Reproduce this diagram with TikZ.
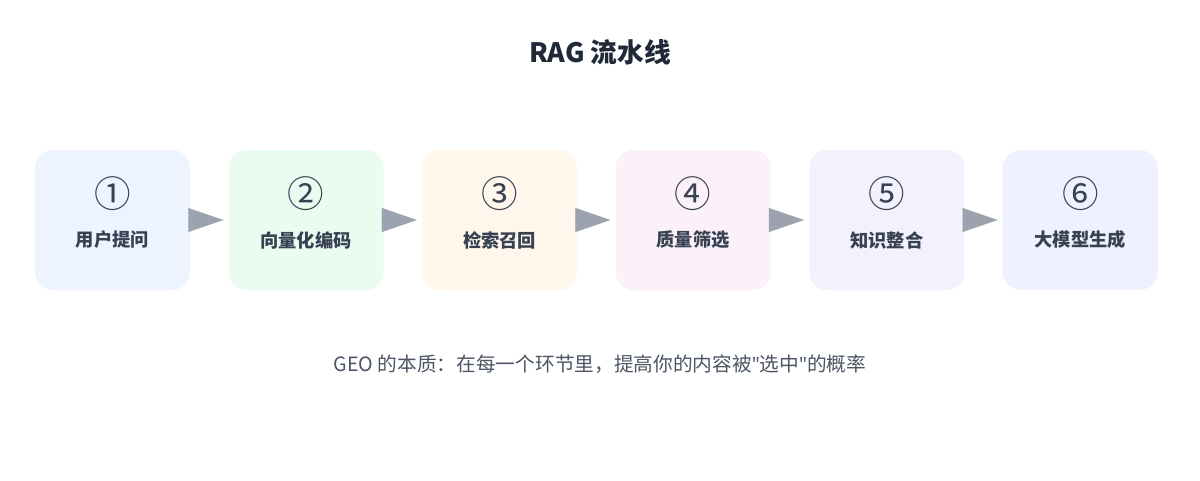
\documentclass[tikz,border=0pt]{standalone}
\usepackage{fontspec}
\setmainfont{Noto Sans CJK SC}
\newfontfamily\latinfont{Noto Sans}
\usetikzlibrary{arrows.meta,positioning}
\definecolor{TextDark}{HTML}{1F2937}
\definecolor{TextMid}{HTML}{374151}
\definecolor{FootGrey}{HTML}{4B5563}
\definecolor{ArrowGrey}{HTML}{9CA3AF}
\definecolor{StepA}{HTML}{EDF3FF}
\definecolor{StepB}{HTML}{EAFBF0}
\definecolor{StepC}{HTML}{FFF6EC}
\definecolor{StepD}{HTML}{FCF1F8}
\definecolor{StepE}{HTML}{F3F1FE}
\definecolor{StepF}{HTML}{EDF2FE}
\tikzset{
  stage/.style={rounded corners=0.45cm,minimum width=3.875cm,minimum height=3.5cm,inner sep=0pt,align=center},
  flow/.style={ArrowGrey,line width=0.1pt,-{Triangle[length=0.875cm,width=0.6cm]},shorten <=0pt,shorten >=0.125cm}
}
\begin{document}
\begin{tikzpicture}
  \useasboundingbox (0,0) rectangle (30,-12);
  % Title
  \node[TextDark,font=\fontsize{19}{22}\selectfont\bfseries] (title) at (15,-1.3) {RAG 流水线};

  % Stages
  \node[stage,fill=StepA] (s1) at (2.8125,-5.5) {};
  \node[stage,fill=StepB,right=0.95cm of s1] (s2) {};
  \node[stage,fill=StepC,right=0.95cm of s2] (s3) {};
  \node[stage,fill=StepD,right=0.95cm of s3] (s4) {};
  \node[stage,fill=StepE,right=0.95cm of s4] (s5) {};
  \node[stage,fill=StepF,right=0.95cm of s5] (s6) {};
  \foreach \i/\num/\txt in {1/①/用户提问,2/②/向量化编码,3/③/检索召回,4/④/质量筛选,5/⑤/知识整合,6/⑥/大模型生成}{
    \node[TextMid,font=\fontsize{26}{28}\selectfont] (n\i) at ([yshift=0.65cm]s\i.center) {\num};
    \node[TextMid,font=\fontsize{13}{15}\selectfont\bfseries] (t\i) at ([yshift=-0.5cm]s\i.center) {\txt};
  }
  \foreach \i/\j in {1/2,2/3,3/4,4/5,5/6}{
    \draw[flow] (s\i) -- (s\j);
  }

  % Footer
  \node[FootGrey,font=\fontsize{14}{16}\selectfont] (foot) at (15,-9.1) {GEO 的本质：在每一个环节里，提高你的内容被{\latinfont"}选中{\latinfont"}的概率};
\end{tikzpicture}
\end{document}
